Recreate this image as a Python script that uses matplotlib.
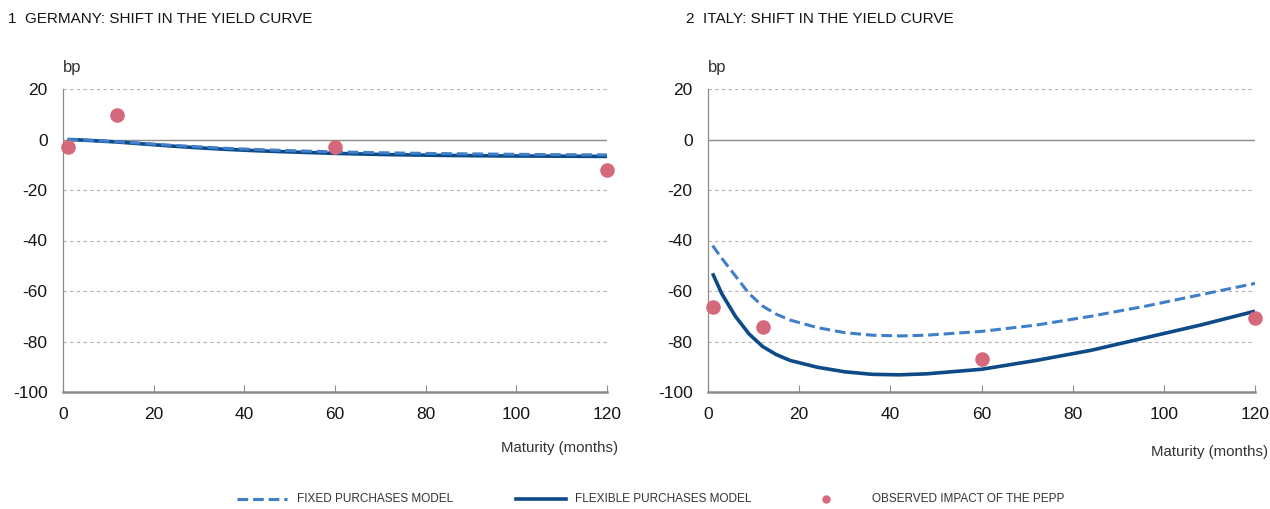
import matplotlib
matplotlib.use("Agg")
import matplotlib.pyplot as plt
from matplotlib.lines import Line2D

plt.rcParams['font.family'] = ['Liberation Sans', 'DejaVu Sans']
plt.rcParams['axes.unicode_minus'] = False

# Maturities (months) for model curves
model_months = [1, 3, 6, 9, 12, 15, 18, 24, 30, 36, 42, 48, 60, 72, 84, 96, 108, 120]

# Germany
de_fixed = [0.0, -0.1, -0.3, -0.6, -0.9, -1.2, -1.6, -2.3, -2.9, -3.5, -3.9, -4.3, -4.9, -5.3, -5.6, -5.8, -6.0, -6.1]
de_flexible = [0.0, -0.1, -0.4, -0.7, -1.0, -1.4, -1.8, -2.6, -3.3, -3.9, -4.4, -4.8, -5.5, -6.0, -6.3, -6.5, -6.6, -6.7]

# Italy
it_fixed = [-42, -47, -54, -61, -66, -69.2, -71.5, -74.5, -76.5, -77.5, -77.8, -77.5, -76, -73.5, -70, -66, -61.5, -57]
it_flexible = [-53, -61, -70, -77, -82, -85.2, -87.5, -90.2, -92, -93, -93.2, -92.8, -91, -87.5, -83.5, -78.5, -73.5, -68]

# Observed impact of the PEPP
obs_months = [1, 12, 60, 120]
de_observed = [-2.8, 9.9, -2.8, -11.9]
it_observed = [-66.4, -74.3, -86.8, -70.7]

x_ticks = [0, 20, 40, 60, 80, 100, 120]
y_ticks = [-100, -80, -60, -40, -20, 0, 20]

titles = ["1  GERMANY: SHIFT IN THE YIELD CURVE", "2  ITALY: SHIFT IN THE YIELD CURVE"]

c_fixed = "#3f7fca"
c_flex = "#0c4a88"
c_obs = "#d6687b"
c_grid = "#b3b3b3"
c_axis = "#8c8c8c"
c_text = "#151515"

fig = plt.figure(figsize=(12.7, 5.09), dpi=100)
ax_l = fig.add_axes([63/1270, 1-392/509, (607-63)/1270, (392-89)/509])
ax_r = fig.add_axes([708/1270, 1-392/509, (1255-708)/1270, (392-89)/509])

panels = [
    (ax_l, de_fixed, de_flexible, de_observed),
    (ax_r, it_fixed, it_flexible, it_observed),
]

for ax, fixed, flex, obs in panels:
    ax.set_xlim(0, 120)
    ax.set_ylim(-100, 20)
    for y in y_ticks:
        if y == 0:
            ax.axhline(0, color=c_axis, lw=1.0, zorder=1)
        elif y != -100:
            ax.axhline(y, color=c_grid, lw=0.8, ls=(0, (3, 3)), zorder=1)
    ax.plot(model_months, flex, color=c_flex, lw=2.6, zorder=3, solid_capstyle='butt',
            solid_joinstyle='round')
    ax.plot(model_months, fixed, color=c_fixed, lw=2.2, ls=(0, (3.5, 1.6)), zorder=4)
    ax.scatter(obs_months, obs, s=110, color=c_obs, zorder=5, clip_on=False, linewidths=0)
    for side in ("top", "right"):
        ax.spines[side].set_visible(False)
    ax.spines["left"].set_color(c_axis)
    ax.spines["left"].set_linewidth(0.9)
    ax.spines["bottom"].set_color(c_axis)
    ax.spines["bottom"].set_linewidth(1.8)
    ax.set_xticks(x_ticks)
    ax.set_yticks(y_ticks)
    ax.tick_params(axis='x', direction='in', length=5, width=0.8, color=c_axis,
                   labelsize=12.5, pad=11, labelcolor=c_text)
    ax.tick_params(axis='y', length=0, labelsize=12.5, pad=11, labelcolor=c_text)
    ax.text(0, 1.045, "bp", transform=ax.transAxes, fontsize=12, color="#333333",
            ha='left', va='bottom')

fig.text(8/1270, 1-19/509, titles[0], fontsize=11, color=c_text, va='center', ha='left')
fig.text(686/1270, 1-19/509, titles[1], fontsize=11, color=c_text, va='center', ha='left')
fig.text(618/1270, 1-448/509, "Maturity (months)", fontsize=10.8, color="#333333",
         va='center', ha='right')
fig.text(1268/1270, 1-452/509, "Maturity (months)", fontsize=10.8, color="#333333",
         va='center', ha='right')

# Legend row
ly = 1 - 499/509
fig.add_artist(Line2D([237/1270, 287/1270], [ly, ly], color=c_fixed, lw=2.2,
                      ls=(0, (3.5, 1.6))))
fig.text(297/1270, ly, "FIXED PURCHASES MODEL", fontsize=8.5, color="#333333",
         va='center', ha='left')
fig.add_artist(Line2D([516/1270, 566/1270], [ly, ly], color=c_flex, lw=2.6))
fig.text(575/1270, ly, "FLEXIBLE PURCHASES MODEL", fontsize=8.5, color="#333333",
         va='center', ha='left')
fig.add_artist(Line2D([826/1270], [ly], marker='o', markersize=5, color=c_obs, lw=0))
fig.text(872/1270, ly, "OBSERVED IMPACT OF THE PEPP", fontsize=8.5, color="#333333",
         va='center', ha='left')

fig.savefig("out.png", dpi=100)
